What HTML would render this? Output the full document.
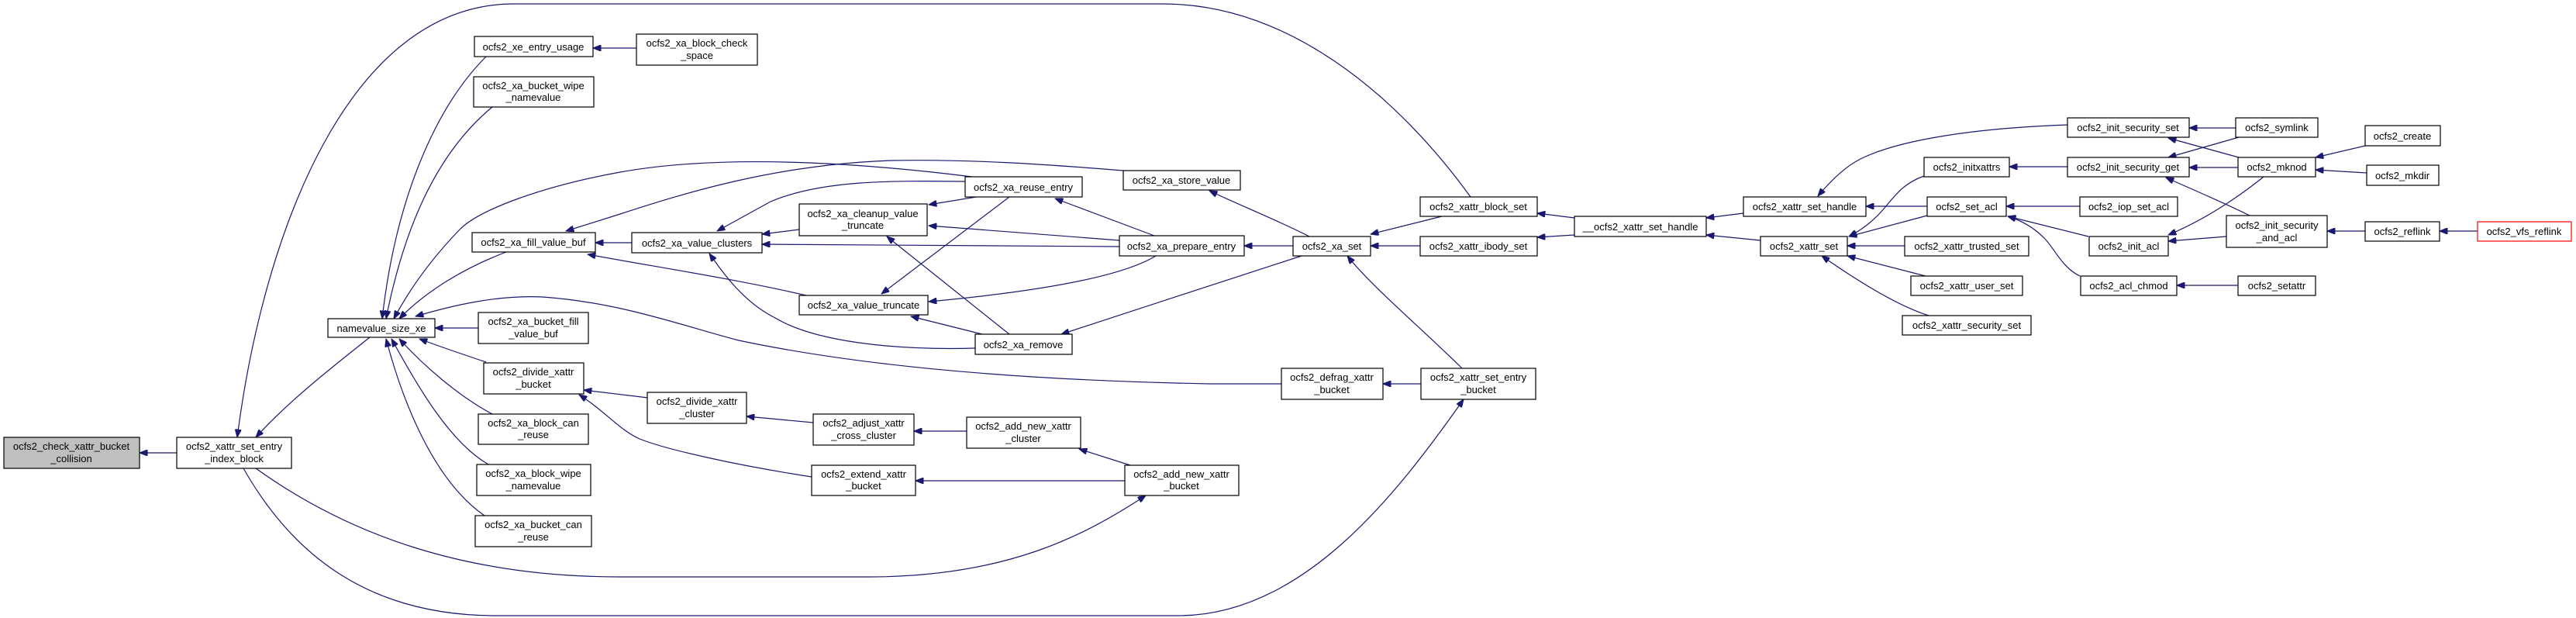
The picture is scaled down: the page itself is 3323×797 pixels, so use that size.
<!DOCTYPE html>
<html><head><meta charset="utf-8"><style>
html,body{margin:0;padding:0;background:#fff;}
svg{display:block;}
text{font-family:"Liberation Sans",sans-serif;font-size:13px;fill:#000;text-anchor:middle;}
.n{fill:#fff;stroke:#000;stroke-width:1.2;}
.e{fill:none;stroke:#191970;stroke-width:1.2;}
</style></head><body>
<svg width="3323" height="797" viewBox="0 0 3323 797" xmlns="http://www.w3.org/2000/svg">
<defs><marker id="a" viewBox="0 0 10 8" refX="10" refY="4" markerWidth="11" markerHeight="8" markerUnits="userSpaceOnUse" orient="auto"><path d="M0,0 L10,4 L0,8 z" fill="#191970" stroke="#191970"/></marker></defs>
<g class="e" marker-end="url(#a)">
<path d="M228,584 L180,584" marker-end="url(#a)"/>
<path d="M477,435 C420,480 370,520 330,564" marker-end="url(#a)"/>
<path d="M1897,254 C1800,120 1660,5 1500,5 L663,5 C450,5 340,300 306,564" marker-end="url(#a)"/>
<path d="M314,604 C380,720 480,794 640,794 L1520,794 C1680,794 1800,640 1888,515" marker-end="url(#a)"/>
<path d="M330,604 C450,690 600,744 800,744 L1120,744 C1300,744 1400,690 1478,639" marker-end="url(#a)"/>
<path d="M627,73 C560,140 510,260 493,411" marker-end="url(#a)"/>
<path d="M635,138 C560,200 520,300 498,411" marker-end="url(#a)"/>
<path d="M1254,228 C1150,215 950,195 800,222 C700,240 620,270 594,295 C560,330 530,370 508,411" marker-end="url(#a)"/>
<path d="M653,325 C600,345 550,375 515,411" marker-end="url(#a)"/>
<path d="M1653,495 L1560,495 C1300,490 1100,470 953,439 C880,420 800,390 700,383 C640,380 580,395 536,408" marker-end="url(#a)"/>
<path d="M617,423 L561,423" marker-end="url(#a)"/>
<path d="M627,467 C600,458 570,448 541,437" marker-end="url(#a)"/>
<path d="M635,534 C590,510 545,470 515,437" marker-end="url(#a)"/>
<path d="M630,599 C580,570 540,500 505,437" marker-end="url(#a)"/>
<path d="M625,665 C560,620 520,520 498,437" marker-end="url(#a)"/>
<path d="M815,313 L768,313" marker-end="url(#a)"/>
<path d="M1449,220 C1350,212 1250,205 1150,207 C1000,212 880,250 800,276 L730,298" marker-end="url(#a)"/>
<path d="M1040,381 C950,360 850,345 758,328" marker-end="url(#a)"/>
<path d="M1031,296 L983,302" marker-end="url(#a)"/>
<path d="M1444,318 L983,315" marker-end="url(#a)"/>
<path d="M1245,234 C1150,233 1060,232 994,260 L925,298" marker-end="url(#a)"/>
<path d="M1258,449 C1150,452 1050,440 1000,410 C960,390 935,355 915,327" marker-end="url(#a)"/>
<path d="M1259,254 L1198,264" marker-end="url(#a)"/>
<path d="M1444,310 L1198,291" marker-end="url(#a)"/>
<path d="M1302,431 L1144,305" marker-end="url(#a)"/>
<path d="M1302,254 L1137,379" marker-end="url(#a)"/>
<path d="M1491,330 C1450,355 1350,375 1198,389" marker-end="url(#a)"/>
<path d="M1267,431 L1175,408" marker-end="url(#a)"/>
<path d="M1489,304 L1361,256" marker-end="url(#a)"/>
<path d="M1679,330 C1600,355 1450,405 1369,431" marker-end="url(#a)"/>
<path d="M1668,317 L1605,317" marker-end="url(#a)"/>
<path d="M1689,305 C1650,285 1600,265 1560,246" marker-end="url(#a)"/>
<path d="M1860,279 L1768,302" marker-end="url(#a)"/>
<path d="M1832,317 L1768,317" marker-end="url(#a)"/>
<path d="M1886,475 C1830,420 1770,370 1738,330" marker-end="url(#a)"/>
<path d="M1833,495 L1784,495" marker-end="url(#a)"/>
<path d="M2031,281 L1983,275" marker-end="url(#a)"/>
<path d="M2031,303 L1983,306" marker-end="url(#a)"/>
<path d="M2249,275 L2201,281" marker-end="url(#a)"/>
<path d="M2271,310 L2201,303" marker-end="url(#a)"/>
<path d="M2668,161 C2550,165 2450,180 2400,205 C2380,215 2360,235 2345,253" marker-end="url(#a)"/>
<path d="M2486,266 L2407,266" marker-end="url(#a)"/>
<path d="M2482,227 C2450,238 2440,260 2423,277 C2410,290 2400,297 2385,305" marker-end="url(#a)"/>
<path d="M2486,278 L2385,305" marker-end="url(#a)"/>
<path d="M2457,317 L2383,317" marker-end="url(#a)"/>
<path d="M2484,356 L2383,330" marker-end="url(#a)"/>
<path d="M2488,407 C2450,395 2400,365 2350,330" marker-end="url(#a)"/>
<path d="M2667,215 L2592,215" marker-end="url(#a)"/>
<path d="M2683,266 L2588,266" marker-end="url(#a)"/>
<path d="M2694,305 L2590,279" marker-end="url(#a)"/>
<path d="M2683,356 C2660,345 2650,320 2637,307 C2625,295 2610,285 2590,279" marker-end="url(#a)"/>
<path d="M2884,165 L2824,165" marker-end="url(#a)"/>
<path d="M2888,203 L2797,178" marker-end="url(#a)"/>
<path d="M2888,177 L2797,203" marker-end="url(#a)"/>
<path d="M2887,216 L2824,216" marker-end="url(#a)"/>
<path d="M2902,278 C2870,262 2841,250 2794,229" marker-end="url(#a)"/>
<path d="M2920,228 C2880,260 2840,285 2797,303" marker-end="url(#a)"/>
<path d="M2872,305 L2797,311" marker-end="url(#a)"/>
<path d="M2887,368 L2808,368" marker-end="url(#a)"/>
<path d="M3051,188 L2987,203" marker-end="url(#a)"/>
<path d="M3053,223 L2987,219" marker-end="url(#a)"/>
<path d="M3051,298 L3002,298" marker-end="url(#a)"/>
<path d="M3196,298 L3147,298" marker-end="url(#a)"/>
<path d="M821,62 L765,62" marker-end="url(#a)"/>
<path d="M836,513 L753,503" marker-end="url(#a)"/>
<path d="M1047,615 C950,600 860,580 825,566 C800,555 780,530 747,509" marker-end="url(#a)"/>
<path d="M1049,545 L963,537" marker-end="url(#a)"/>
<path d="M1247,556 L1179,556" marker-end="url(#a)"/>
<path d="M1458,600 L1392,579" marker-end="url(#a)"/>
<path d="M1451,620 L1181,620" marker-end="url(#a)"/>
</g>
<g>
<rect x="5" y="564" width="175" height="40" fill="#bfbfbf" stroke="#000" stroke-width="1.2"/><text x="92" y="580">ocfs2_check_xattr_bucket</text><text x="92" y="596">_collision</text>
<rect class="n" x="228" y="564" width="148" height="40"/><text x="302" y="580">ocfs2_xattr_set_entry</text><text x="302" y="596">_index_block</text>
<rect class="n" x="423" y="411" width="138" height="24"/><text x="492" y="428">namevalue_size_xe</text>
<rect class="n" x="612" y="47" width="153" height="26"/><text x="688" y="65">ocfs2_xe_entry_usage</text>
<rect class="n" x="611" y="99" width="155" height="39"/><text x="688" y="115">ocfs2_xa_bucket_wipe</text><text x="688" y="130">_namevalue</text>
<rect class="n" x="609" y="300" width="159" height="25"/><text x="688" y="317">ocfs2_xa_fill_value_buf</text>
<rect class="n" x="617" y="403" width="142" height="40"/><text x="688" y="419">ocfs2_xa_bucket_fill</text><text x="688" y="435">_value_buf</text>
<rect class="n" x="624" y="468" width="129" height="40"/><text x="688" y="484">ocfs2_divide_xattr</text><text x="688" y="500">_bucket</text>
<rect class="n" x="617" y="534" width="142" height="39"/><text x="688" y="550">ocfs2_xa_block_can</text><text x="688" y="565">_reuse</text>
<rect class="n" x="615" y="599" width="147" height="40"/><text x="688" y="615">ocfs2_xa_block_wipe</text><text x="688" y="631">_namevalue</text>
<rect class="n" x="613" y="665" width="150" height="40"/><text x="688" y="681">ocfs2_xa_bucket_can</text><text x="688" y="697">_reuse</text>
<rect class="n" x="821" y="44" width="156" height="40"/><text x="899" y="60">ocfs2_xa_block_check</text><text x="899" y="76">_space</text>
<rect class="n" x="815" y="300" width="168" height="26"/><text x="899" y="318">ocfs2_xa_value_clusters</text>
<rect class="n" x="1031" y="263" width="165" height="41"/><text x="1113" y="280">ocfs2_xa_cleanup_value</text><text x="1113" y="295">_truncate</text>
<rect class="n" x="1031" y="381" width="166" height="25"/><text x="1114" y="398">ocfs2_xa_value_truncate</text>
<rect class="n" x="1245" y="228" width="151" height="26"/><text x="1320" y="246">ocfs2_xa_reuse_entry</text>
<rect class="n" x="1258" y="431" width="125" height="26"/><text x="1320" y="449">ocfs2_xa_remove</text>
<rect class="n" x="1449" y="220" width="151" height="25"/><text x="1524" y="237">ocfs2_xa_store_value</text>
<rect class="n" x="1444" y="304" width="161" height="26"/><text x="1524" y="322">ocfs2_xa_prepare_entry</text>
<rect class="n" x="835" y="506" width="128" height="40"/><text x="899" y="522">ocfs2_divide_xattr</text><text x="899" y="538">_cluster</text>
<rect class="n" x="1049" y="534" width="130" height="40"/><text x="1114" y="550">ocfs2_adjust_xattr</text><text x="1114" y="566">_cross_cluster</text>
<rect class="n" x="1047" y="600" width="134" height="39"/><text x="1114" y="616">ocfs2_extend_xattr</text><text x="1114" y="631">_bucket</text>
<rect class="n" x="1247" y="538" width="147" height="40"/><text x="1320" y="554">ocfs2_add_new_xattr</text><text x="1320" y="570">_cluster</text>
<rect class="n" x="1451" y="600" width="147" height="39"/><text x="1524" y="616">ocfs2_add_new_xattr</text><text x="1524" y="631">_bucket</text>
<rect class="n" x="1668" y="305" width="100" height="25"/><text x="1718" y="322">ocfs2_xa_set</text>
<rect class="n" x="1832" y="254" width="151" height="25"/><text x="1907" y="271">ocfs2_xattr_block_set</text>
<rect class="n" x="1832" y="305" width="151" height="25"/><text x="1907" y="322">ocfs2_xattr_ibody_set</text>
<rect class="n" x="1653" y="475" width="131" height="40"/><text x="1718" y="491">ocfs2_defrag_xattr</text><text x="1718" y="507">_bucket</text>
<rect class="n" x="1833" y="475" width="148" height="40"/><text x="1907" y="491">ocfs2_xattr_set_entry</text><text x="1907" y="507">_bucket</text>
<rect class="n" x="2031" y="279" width="170" height="26"/><text x="2116" y="297">__ocfs2_xattr_set_handle</text>
<rect class="n" x="2249" y="254" width="158" height="25"/><text x="2328" y="271">ocfs2_xattr_set_handle</text>
<rect class="n" x="2271" y="305" width="112" height="25"/><text x="2327" y="322">ocfs2_xattr_set</text>
<rect class="n" x="2482" y="203" width="110" height="25"/><text x="2537" y="220">ocfs2_initxattrs</text>
<rect class="n" x="2486" y="254" width="102" height="25"/><text x="2537" y="271">ocfs2_set_acl</text>
<rect class="n" x="2457" y="305" width="160" height="25"/><text x="2537" y="322">ocfs2_xattr_trusted_set</text>
<rect class="n" x="2465" y="356" width="144" height="25"/><text x="2537" y="373">ocfs2_xattr_user_set</text>
<rect class="n" x="2454" y="407" width="166" height="25"/><text x="2537" y="424">ocfs2_xattr_security_set</text>
<rect class="n" x="2667" y="152" width="157" height="25"/><text x="2745" y="169">ocfs2_init_security_set</text>
<rect class="n" x="2667" y="203" width="157" height="25"/><text x="2745" y="220">ocfs2_init_security_get</text>
<rect class="n" x="2683" y="254" width="126" height="25"/><text x="2746" y="271">ocfs2_iop_set_acl</text>
<rect class="n" x="2695" y="305" width="102" height="25"/><text x="2746" y="322">ocfs2_init_acl</text>
<rect class="n" x="2684" y="356" width="124" height="25"/><text x="2746" y="373">ocfs2_acl_chmod</text>
<rect class="n" x="2884" y="152" width="106" height="25"/><text x="2937" y="169">ocfs2_symlink</text>
<rect class="n" x="2887" y="203" width="100" height="25"/><text x="2937" y="220">ocfs2_mknod</text>
<rect class="n" x="2872" y="278" width="130" height="41"/><text x="2937" y="295">ocfs2_init_security</text><text x="2937" y="311">_and_acl</text>
<rect class="n" x="2887" y="356" width="100" height="25"/><text x="2937" y="373">ocfs2_setattr</text>
<rect class="n" x="3051" y="162" width="97" height="26"/><text x="3099" y="180">ocfs2_create</text>
<rect class="n" x="3053" y="213" width="93" height="26"/><text x="3099" y="231">ocfs2_mkdir</text>
<rect class="n" x="3051" y="286" width="96" height="25"/><text x="3099" y="303">ocfs2_reflink</text>
<rect x="3196" y="286" width="121" height="25" fill="#fff" stroke="#ff0000" stroke-width="1.2"/><text x="3256" y="303">ocfs2_vfs_reflink</text>
</g>
</svg>
</body></html>
